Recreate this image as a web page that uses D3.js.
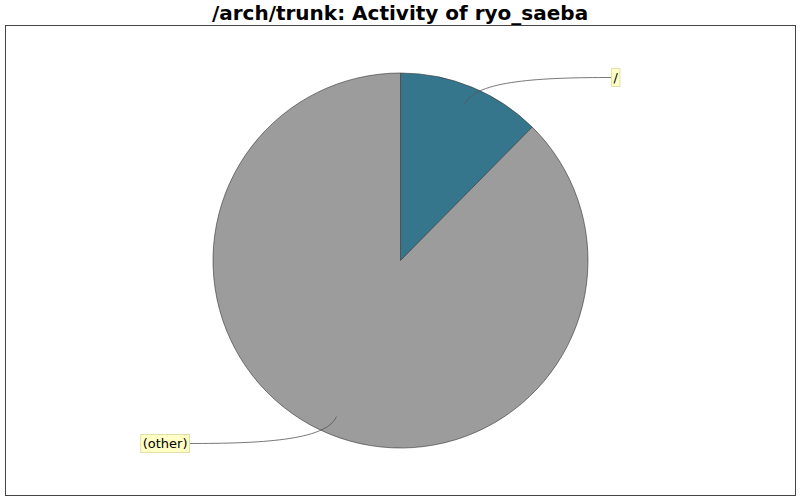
<!DOCTYPE html>
<html>
<head>
<meta charset="utf-8">
<script src="https://cdn.jsdelivr.net/npm/d3@7"></script>
<style>
body{margin:0;background:#fff}
</style>
</head>
<body>
<div class="chart"></div>
<script>
const title="/arch/trunk: Activity of ryo_saeba"
const labels=["/","(other)"]
const values=[12.4,87.6]
const colors=["#35768c","#9c9c9c"]

const width=800,height=500
const cx=400.5,cy=260.5,radius=187.5

const svg=d3.select('.chart').append('svg')
		.attr('width',width)
		.attr('height',height)
		.style('font-family','"DejaVu Sans", sans-serif')

svg.append('rect')
		.attr('x',5.5)
		.attr('y',25.5)
		.attr('width',790)
		.attr('height',470)
		.attr('fill','#fff')
		.attr('stroke','#444')
		.attr('stroke-width',1)

svg.append('text')
		.attr('x',width/2)
		.attr('y',20)
		.attr('text-anchor','middle')
		.attr('font-size',20)
		.attr('font-weight','bold')
		.text(title)

const data=labels.map((l,i)=>({label:l,value:values[i],color:colors[i]}))

const pie=d3.pie().sort(null).value(d=>d.value)
const arcs=pie(data)

const arc=d3.arc().innerRadius(0).outerRadius(radius)

const g=svg.append('g')
		.attr('transform',`translate(${cx},${cy})`)

g.selectAll('.slice')
		.data(arcs)
		.enter()
		.append('path')
		.attr('class','slice')
		.attr('d',arc)
		.attr('fill',d=>d.data.color)
		.attr('stroke','#333')
		.attr('stroke-width',0.6)

// point at radius r along angle a (d3 angles: 0 at top, clockwise)
function pt(a,r){
	return [Math.sin(a)*r,-Math.cos(a)*r]
}

arcs.forEach(d=>{
	const a=(d.startAngle+d.endAngle)/2
	const right=Math.sin(a)>=0
	const anchor=pt(a,radius*0.9)
	const elbow=pt(a,radius*1.04)
	const ly=-Math.cos(a)*radius*1.055
	const lx=right ? radius+23.5 : -(radius+23.5)
	const c2=[(elbow[0]+lx)/2,ly]

	g.append('path')
		.attr('d',`M${anchor[0]},${anchor[1]} C${elbow[0]},${elbow[1]} ${c2[0]},${c2[1]} ${lx},${ly}`)
		.attr('fill','none')
		.attr('stroke','#555')
		.attr('stroke-width',0.8)

	const t=g.append('text')
		.attr('font-size',13)
		.attr('y',ly+4.5)
		.text(d.data.label)
	const w=t.node().getComputedTextLength()
	const bx=right ? lx : lx-w-4
	t.attr('x',bx+2)
	g.insert('rect',()=>t.node())
		.attr('x',bx)
		.attr('y',ly-9)
		.attr('width',w+4)
		.attr('height',18)
		.attr('fill','#ffffc6')
		.attr('stroke','#e0e0a8')
		.attr('stroke-width',1)
})
</script>
</body>
</html>
